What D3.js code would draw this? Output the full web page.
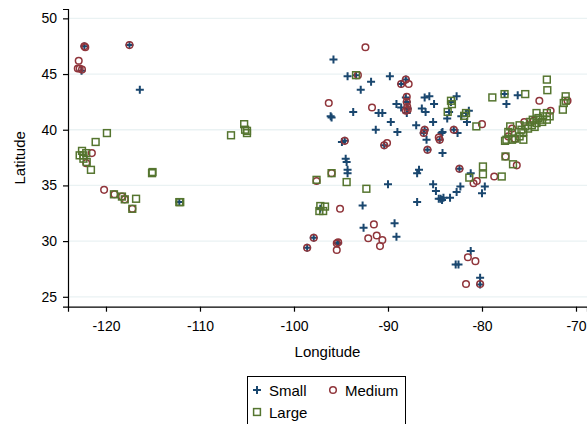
<!DOCTYPE html>
<html>
<head>
<meta charset="utf-8">
<script src="https://cdn.jsdelivr.net/npm/d3@7"></script>
<style>
  body { margin: 0; background: #fff; }
  text { font-family: "Liberation Sans", Arial, sans-serif; }
</style>
</head>
<body>
<div id="chart"></div>
<script>
// [longitude, latitude] pairs
var small = [
  [-122.3, 47.5], [-117.5, 47.6], [-122.6, 45.3], [-116.4, 43.6], [-112.2, 33.5],
  [-95.8, 46.3], [-94.3, 44.8], [-93.4, 44.9], [-91.8, 44.3], [-89.8, 44.8],
  [-92.9, 43.6], [-88.1, 44.5], [-88.6, 44.1], [-96.1, 41.2], [-96.0, 41.1],
  [-93.7, 41.6], [-91.0, 41.5], [-90.6, 41.5], [-89.7, 40.7], [-91.3, 40.0],
  [-89.0, 39.8], [-88.1, 42.9], [-89.1, 42.3], [-88.6, 42.0], [-88.0, 42.5],
  [-87.9, 41.9], [-88.0, 41.5], [-86.1, 42.9], [-85.6, 43.0], [-85.1, 42.3],
  [-86.4, 41.9], [-86.0, 41.6], [-85.2, 40.7], [-87.0, 40.4], [-86.1, 40.0],
  [-86.2, 39.7], [-85.9, 39.1], [-84.3, 39.7], [-83.0, 40.0], [-83.3, 42.5],
  [-83.5, 41.6], [-82.7, 43.0], [-83.7, 41.0], [-94.6, 39.0], [-94.9, 38.9],
  [-90.4, 38.6], [-85.8, 38.2], [-84.5, 39.1], [-84.2, 37.9], [-94.5, 37.4],
  [-94.4, 37.1], [-94.3, 36.4], [-94.3, 36.1], [-90.0, 35.1], [-92.7, 33.2],
  [-86.9, 36.1], [-86.7, 36.4], [-86.9, 33.5], [-85.2, 35.1], [-84.9, 34.5],
  [-84.4, 33.8], [-84.25, 33.7], [-84.6, 33.8], [-84.1, 33.9], [-83.4, 33.9],
  [-82.7, 34.4], [-82.3, 34.9], [-82.4, 36.5], [-81.2, 36.1], [-79.7, 34.9],
  [-80.0, 34.3], [-92.6, 31.2], [-89.3, 31.6], [-89.1, 30.4], [-97.9, 30.3],
  [-98.6, 29.4], [-95.4, 29.8], [-95.3, 29.8], [-82.8, 27.9], [-82.5, 27.9],
  [-81.2, 29.1], [-80.2, 26.7], [-80.2, 26.1], [-76.2, 43.1], [-77.4, 42.3],
  [-77.6, 43.2], [-81.7, 41.5], [-81.4, 41.7], [-81.6, 40.7], [-82.2, 41.2],
  [-84.2, 39.8], [-82.6, 39.7], [-97.2, 32.9]
];

var medium = [
  [-122.3, 47.5], [-122.2, 47.4], [-117.5, 47.6], [-122.9, 46.2], [-123.0, 45.5],
  [-122.8, 45.5], [-122.55, 45.4], [-121.5, 37.9], [-122.1, 37.0], [-120.2, 34.6],
  [-119.1, 34.2], [-118.3, 34.0], [-118.0, 33.75], [-117.2, 32.9], [-92.4, 47.4],
  [-93.2, 44.9], [-88.1, 44.5], [-88.6, 44.1], [-87.8, 44.1], [-96.3, 42.4],
  [-91.7, 42.0], [-88.0, 42.96], [-88.0, 42.5], [-87.95, 42.05], [-87.9, 41.8],
  [-88.1, 41.7], [-86.1, 40.0], [-86.2, 39.7], [-83.0, 40.0], [-94.6, 39.0],
  [-90.4, 38.6], [-90.1, 38.8], [-85.8, 38.2], [-84.5, 39.1], [-84.6, 39.3],
  [-96.0, 36.1], [-97.6, 35.4], [-95.1, 32.9], [-91.5, 31.5], [-92.1, 30.25],
  [-91.2, 30.5], [-90.6, 30.1], [-90.85, 29.55], [-97.9, 30.3], [-98.6, 29.4],
  [-95.45, 29.8], [-95.3, 29.9], [-95.45, 29.2], [-81.5, 28.55], [-80.7, 28.2],
  [-81.7, 26.15], [-80.2, 26.15], [-82.4, 36.5], [-80.9, 35.2], [-80.55, 35.4],
  [-78.7, 35.8], [-77.5, 37.6], [-76.3, 36.8], [-80.0, 40.5], [-73.9, 42.6],
  [-70.9, 42.6], [-72.7, 41.7], [-76.8, 40.1], [-75.5, 40.7], [-77.2, 39.4],
  [-76.5, 39.2], [-74.5, 40.8]
];

var large = [
  [-121.1, 38.9], [-119.9, 39.7], [-122.8, 37.7], [-122.4, 37.7], [-122.1, 37.9],
  [-122.4, 37.4], [-122.05, 37.1], [-122.55, 38.1], [-121.6, 36.4], [-115.1, 36.1],
  [-115.05, 36.2], [-119.15, 34.2], [-118.3, 34.0], [-118.0, 33.75], [-116.8, 33.8],
  [-117.2, 32.9], [-112.2, 33.5], [-112.1, 33.5], [-106.7, 39.5], [-105.3, 40.5],
  [-105.2, 40.0], [-105.0, 39.7], [-105.0, 39.9], [-93.4, 44.9], [-96.0, 36.1],
  [-97.6, 35.5], [-94.4, 35.3], [-92.3, 34.7], [-97.2, 33.15], [-96.7, 33.1],
  [-97.3, 32.7], [-96.9, 32.7], [-83.3, 42.6], [-83.2, 42.3], [-83.65, 41.6],
  [-81.7, 41.5], [-81.9, 41.25], [-80.6, 40.3], [-78.9, 42.9], [-77.6, 43.2],
  [-75.4, 43.2], [-73.1, 44.5], [-73.05, 43.55], [-71.1, 43.0], [-71.3, 42.4],
  [-71.1, 42.6], [-71.4, 41.8], [-74.2, 41.5], [-73.5, 41.2], [-73.1, 40.9],
  [-73.8, 40.9], [-74.2, 40.6], [-74.7, 40.4], [-75.1, 40.1], [-75.4, 40.3],
  [-75.8, 40.0], [-76.0, 40.4], [-75.6, 39.8], [-73.1, 41.5], [-72.8, 41.2],
  [-74.6, 40.9], [-74.0, 41.05], [-73.6, 40.7], [-74.9, 40.7], [-74.4, 40.25],
  [-77.0, 40.3], [-76.8, 39.7], [-77.2, 39.8], [-77.4, 39.1], [-76.8, 39.1],
  [-76.5, 39.2], [-75.6, 39.1], [-77.55, 39.0], [-76.0, 39.4], [-77.5, 37.6],
  [-76.7, 36.9], [-79.9, 36.7], [-79.9, 36.0], [-81.35, 35.7], [-77.9, 35.8]
];

var xTicks = [-120, -110, -100, -90, -80, -70];
var yTicks = [25, 30, 35, 40, 45, 50];
var legendNames = ["Small", "Medium", "Large"];

var width = 587, height = 424;
var plot = { left: 68, right: 587, top: 9, bottom: 306.7 };

var navy = "#1a476f", maroon = "#90353b", green = "#55752f";

var svg = d3.select("#chart").append("svg")
    .attr("width", width)
    .attr("height", height);

var x = d3.scaleLinear().domain([-124.04, -68.83]).range([plot.left, plot.right]);
var y = d3.scaleLinear().domain([24.11, 50.84]).range([plot.bottom, plot.top]);

//Gridlines
svg.append("g").selectAll("line")
    .data(yTicks)
    .enter().append("line")
    .attr("x1", plot.left).attr("x2", plot.right)
    .attr("y1", d => y(d)).attr("y2", d => y(d))
    .attr("stroke", "#eaf2f3")
    .attr("stroke-width", 1.3);

//Axes
var yAxis = svg.append("g")
    .attr("transform", "translate(" + plot.left + ",0)")
    .call(d3.axisLeft(y).tickValues(yTicks).tickSize(5).tickPadding(6));
var xAxis = svg.append("g")
    .attr("transform", "translate(0," + plot.bottom + ")")
    .call(d3.axisBottom(x).tickValues(xTicks).tickSize(5).tickPadding(9)
        .tickFormat(d => d < 0 ? "-" + Math.abs(d) : d));

[xAxis, yAxis].forEach(function (g) {
    g.select(".domain").attr("stroke", "#000").attr("stroke-width", 1.2);
    g.selectAll(".tick line").attr("stroke", "#000").attr("stroke-width", 1.2);
    g.selectAll("text").attr("fill", "#000")
        .style("font-family", "'Liberation Sans', Arial, sans-serif")
        .style("font-size", "14px");
});

//Axis titles
svg.append("text")
    .attr("x", (plot.left + plot.right) / 2)
    .attr("y", 357)
    .attr("text-anchor", "middle")
    .style("font-size", "15px")
    .text("Longitude");

svg.append("text")
    .attr("transform", "translate(25," + ((plot.top + plot.bottom) / 2) + ") rotate(-90)")
    .attr("text-anchor", "middle")
    .style("font-size", "15px")
    .text("Latitude");

//Marker shapes
function drawPlus(g, cx, cy) {
    g.append("path")
        .attr("d", "M" + (cx - 4) + "," + cy + "H" + (cx + 4) + "M" + cx + "," + (cy - 4) + "V" + (cy + 4))
        .attr("stroke", navy).attr("stroke-width", 2).attr("fill", "none");
}
function drawCircle(g, cx, cy) {
    g.append("circle")
        .attr("cx", cx).attr("cy", cy).attr("r", 3.3)
        .attr("stroke", maroon).attr("stroke-width", 1.5).attr("fill", "none");
}
function drawSquare(g, cx, cy) {
    g.append("rect")
        .attr("x", cx - 3.4).attr("y", cy - 3.4)
        .attr("width", 6.8).attr("height", 6.8)
        .attr("stroke", green).attr("stroke-width", 1.5).attr("fill", "none");
}

var pts = svg.append("g");
small.forEach(d => drawPlus(pts, x(d[0]), y(d[1])));
medium.forEach(d => drawCircle(pts, x(d[0]), y(d[1])));
large.forEach(d => drawSquare(pts, x(d[0]), y(d[1])));

//Legend
var lg = svg.append("g");
lg.append("rect")
    .attr("x", 247.5).attr("y", 376.5)
    .attr("width", 158).attr("height", 60)
    .attr("fill", "#fff").attr("stroke", "#000").attr("stroke-width", 1);

var legendPos = [[257, 390], [333, 390], [257, 412]];
var drawers = [drawPlus, drawCircle, drawSquare];
legendNames.forEach(function (name, i) {
    drawers[i](lg, legendPos[i][0], legendPos[i][1]);
    lg.append("text")
        .attr("x", legendPos[i][0] + 12)
        .attr("y", legendPos[i][1] + 5.5)
        .style("font-size", "15px")
        .text(name);
});
</script>
</body>
</html>
